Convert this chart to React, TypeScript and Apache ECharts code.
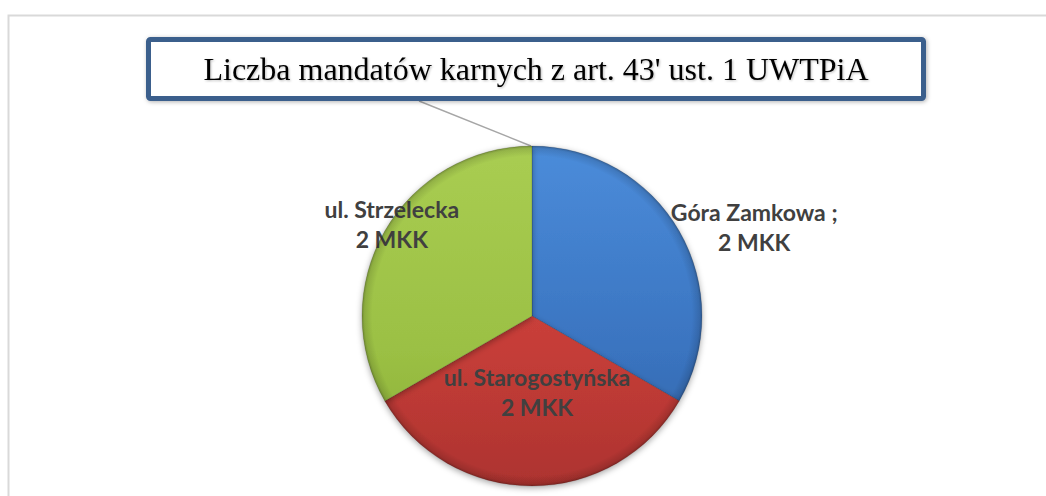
import React, { useEffect, useRef } from "react";
import * as echarts from "echarts";

const titleText = "Liczba mandatów karnych z art. 43' ust. 1 UWTPiA";
const categories = ["Góra Zamkowa ;", "ul. Starogostyńska", "ul. Strzelecka"];
const values = [2, 2, 2];
const unit = "MKK";

const baseColors = [
  ["#4b8cda", "#3a74c0", "#3262a5"],
  ["#dd4a44", "#c53d38", "#ad332f"],
  ["#a9cd52", "#9bc044", "#88ab37"],
];
const labelShift = [
  [146, -45],
  [5, -12],
  [-64, -48],
];

const CX = 532;
const CY = 316;
const R = 170;

export default function App() {
  const ref = useRef<HTMLDivElement>(null);
  useEffect(() => {
    if (!ref.current) return;
    const chart = echarts.init(ref.current, undefined, { renderer: "svg" });
    const data = categories.map((name, i) => ({
      name,
      value: values[i],
      itemStyle: {
        color: {
          type: "linear",
          x: 0,
          y: CY - R,
          x2: 0,
          y2: CY + R,
          global: true,
          colorStops: [
            { offset: 0, color: baseColors[i][0] },
            { offset: 0.6, color: baseColors[i][1] },
            { offset: 1, color: baseColors[i][2] },
          ],
        },
      },
    }));
    chart.setOption({
      animation: false,
      backgroundColor: "#ffffff",
      graphic: [
        {
          type: "rect",
          shape: { x: 8.5, y: 15.5, width: 1200, height: 700 },
          style: { fill: "none", stroke: "#d9d9d9", lineWidth: 2 },
          z: 0,
        },
        {
          type: "line",
          shape: { x1: 419, y1: 101, x2: 531, y2: 146 },
          style: { stroke: "#a6a6a6", lineWidth: 1.5 },
          z: 1,
        },
        {
          type: "rect",
          shape: { x: 148.5, y: 39.5, width: 775, height: 59, r: 2 },
          style: {
            fill: "#ffffff",
            stroke: "#3b5e8c",
            lineWidth: 5,
            shadowBlur: 4,
            shadowColor: "rgba(0,0,0,0.3)",
            shadowOffsetX: 1,
            shadowOffsetY: 1,
          },
          z: 5,
        },
        {
          type: "text",
          x: 536,
          y: 69,
          style: {
            text: titleText,
            fontFamily: "Liberation Serif",
            fontSize: 32,
            fill: "#000000",
            align: "center",
            verticalAlign: "middle",
            textShadowBlur: 2,
            textShadowColor: "rgba(0,0,0,0.25)",
            textShadowOffsetX: 1,
            textShadowOffsetY: 1,
          },
          z: 6,
        },
      ],
      series: [
        {
          type: "pie",
          center: [CX, CY],
          radius: R,
          startAngle: 90,
          clockwise: true,
          avoidLabelOverlap: false,
          itemStyle: {
            borderColor: "rgba(0,0,0,0.15)",
            borderWidth: 1,
            shadowBlur: 6,
            shadowColor: "rgba(0,0,0,0.35)",
            shadowOffsetY: 2,
          },
          label: {
            show: true,
            position: "inside",
            formatter: (p: any) => `${p.name}\n${p.value} ${unit}`,
            fontFamily: "Lato",
            fontWeight: "bold",
            fontSize: 23,
            lineHeight: 30,
            color: "#404040",
          },
          labelLine: { show: false },
          labelLayout: (p: any) => ({
            dx: labelShift[p.dataIndex][0],
            dy: labelShift[p.dataIndex][1],
          }),
          emphasis: { disabled: true },
          data,
          z: 2,
        },
        {
          type: "pie",
          center: [CX, CY],
          radius: [R - 10, R],
          startAngle: 90,
          clockwise: true,
          silent: true,
          label: { show: false },
          labelLine: { show: false },
          itemStyle: {
            color: {
              type: "radial",
              x: CX,
              y: CY,
              r: R,
              global: true,
              colorStops: [
                { offset: 0.94, color: "rgba(0,0,0,0)" },
                { offset: 0.985, color: "rgba(0,0,0,0.12)" },
                { offset: 1, color: "rgba(0,0,0,0.28)" },
              ],
            },
          },
          emphasis: { disabled: true },
          tooltip: { show: false },
          data: categories.map((name, i) => ({ name, value: values[i] })),
          z: 3,
        },
      ],
    });
    return () => chart.dispose();
  }, []);
  return (
    <div
      ref={ref}
      style={{ position: "absolute", left: 0, top: 0, width: 1046, height: 496 }}
    />
  );
}
